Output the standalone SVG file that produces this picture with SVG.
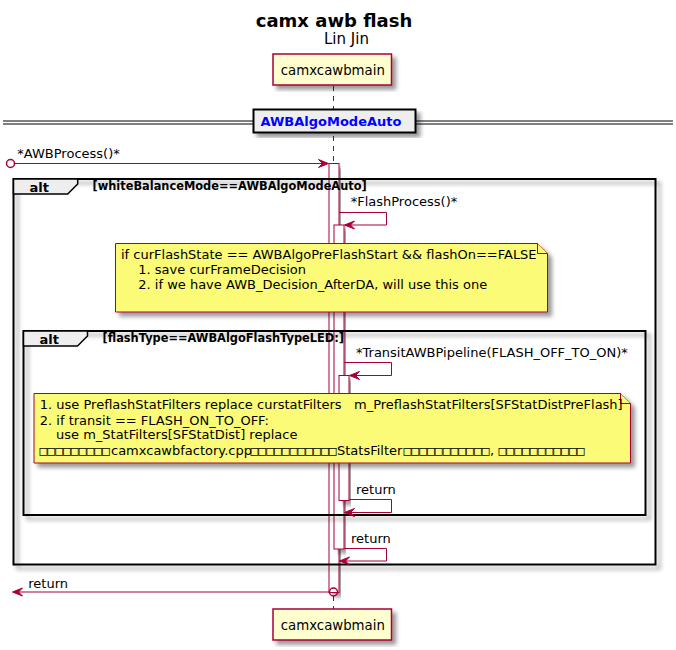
<svg xmlns="http://www.w3.org/2000/svg" width="676" height="650" viewBox="0 0 676 650">
<style>
text{font-family:"DejaVu Sans","Liberation Sans",sans-serif;fill:#000}
.msg{font-size:13px}
.note{font-size:13px;white-space:pre}
.tofu{font-family:"DejaVu Sans Mono","Liberation Mono",monospace;font-size:13px}
.guard{font-size:11.4px;font-weight:bold}
.altl{font-size:13px;font-weight:bold}
.ln{stroke:#A80036;stroke-width:1;fill:none}
.act{fill:#FFFFFF;stroke:#A80036;stroke-width:1}
.part{fill:#FEFECE;stroke:#A80036;stroke-width:1.5}
.notebox{fill:#FBFB77;stroke:#A80036;stroke-width:1}
.frame{fill:none;stroke:#000;stroke-width:2}
.tab{fill:#EEEEEE;stroke:#000;stroke-width:1.5}
.ah{fill:#A80036;stroke:#A80036;stroke-width:1}
</style>
<defs>
<filter id="sh" x="-10%" y="-10%" width="130%" height="130%">
<feGaussianBlur in="SourceAlpha" stdDeviation="2"/>
<feColorMatrix type="matrix" values="0 0 0 0 0 0 0 0 0 0 0 0 0 0 0 0 0 0 0.4 0"/>
<feOffset dx="4" dy="4" result="b"/>
<feMerge><feMergeNode in="b"/><feMergeNode in="SourceGraphic"/></feMerge>
</filter>
</defs>

<g id="title">
<text x="334" y="27" text-anchor="middle" font-size="18" font-weight="bold">camx awb flash</text>
<text x="324" y="43.5" font-size="15">Lin Jin</text>
</g>

<g id="lifeline">
<line x1="333.5" y1="86" x2="333.5" y2="609" stroke="#A80036" stroke-width="1" stroke-dasharray="5,5"/>
</g>

<g id="participant-top">
<rect class="part" x="273" y="54" width="118.5" height="31" filter="url(#sh)"/>
<text x="280.8" y="74.5" font-size="13.3">camxcawbmain</text>
</g>
<g id="participant-bottom">
<rect class="part" x="273" y="609" width="118.5" height="31" filter="url(#sh)"/>
<text x="280.8" y="629.5" font-size="13.3">camxcawbmain</text>
</g>

<g id="divider">
<line x1="3" y1="121" x2="673" y2="121" stroke="#000" stroke-width="1"/>
<line x1="3" y1="124" x2="673" y2="124" stroke="#000" stroke-width="1"/>
<rect x="253.5" y="109.5" width="162" height="23" fill="#EEEEEE" stroke="#000" stroke-width="2" filter="url(#sh)"/>
<text x="260.5" y="125.5" font-size="13" font-weight="bold" style="fill:#0000FF">AWBAlgoModeAuto</text>
</g>

<g id="activations">
<rect class="act" x="329" y="163.5" width="10" height="429" filter="url(#sh)"/>
<rect class="act" x="334" y="225" width="10" height="324" filter="url(#sh)"/>
<rect class="act" x="339" y="375.5" width="10" height="125" filter="url(#sh)"/>
</g>

<g id="alt-outer">
<rect class="frame" x="13.5" y="179" width="642" height="385.5" filter="url(#sh)"/>
<path class="tab" d="M13.5,179 L77.7,179 L77.7,184 L67.7,194 L13.5,194 Z"/>
<text class="altl" x="29.5" y="191.5">alt</text>
<text class="guard" x="92.5" y="190">[whiteBalanceMode==AWBAlgoModeAuto]</text>
</g>

<g id="alt-inner">
<rect class="frame" x="23.5" y="331" width="622" height="184" filter="url(#sh)"/>
<path class="tab" d="M23.5,331 L87.5,331 L87.5,336 L77.5,346 L23.5,346 Z"/>
<text class="altl" x="39.5" y="343.5">alt</text>
<text class="guard" x="102.5" y="341.5">[flashType==AWBAlgoFlashTypeLED:]</text>
</g>

<g id="note1">
<path class="notebox" d="M115.5,243.5 L115.5,312 L547.5,312 L547.5,253.5 L537.5,243.5 Z" filter="url(#sh)"/>
<path class="notebox" d="M537.5,243.5 L537.5,253.5 L547.5,253.5"/>
<text class="note" x="121" y="259.3">if curFlashState == AWBAlgoPreFlashStart &amp;&amp; flashOn==FALSE</text>
<text class="note" x="138.3" y="274.3">1. save curFrameDecision</text>
<text class="note" x="138.3" y="289">2. if we have AWB_Decision_AfterDA, will use this one</text>
</g>

<g id="note2">
<path class="notebox" d="M34,393.5 L34,463 L630.5,463 L630.5,403.5 L620.5,393.5 Z" filter="url(#sh)"/>
<path class="notebox" d="M620.5,393.5 L620.5,403.5 L630.5,403.5"/>
<text class="note" x="39.8" y="409.3">1. use PreflashStatFilters replace curstatFilters   m_PreflashStatFilters[SFStatDistPreFlash]</text>
<text class="note" x="39.8" y="424.7">2. if transit == FLASH_ON_TO_OFF:</text>
<text class="note" x="56" y="439.3">use m_StatFilters[SFStatDist] replace</text>
<text class="tofu" x="39.5" y="454.7">□□□□□□□□□</text>
<text class="note" x="111" y="454.7">camxcawbfactory.cpp</text>
<text class="tofu" x="250.5" y="454.7">□□□□□□□□□□□</text>
<text class="note" x="337" y="454.7">StatsFilter</text>
<text class="tofu" x="403.5" y="454.7">□□□□□□□□□□□</text>
<text class="note" x="490" y="454.7">,</text>
<text class="tofu" x="498.5" y="454.7">□□□□□□□□□□□</text>
</g>

<g id="connectors">
<circle cx="10.5" cy="163.5" r="4" fill="none" stroke="#A80036" stroke-width="1.5"/>
<line class="ln" x1="14.5" y1="163.5" x2="327" y2="163.5"/>
<polygon class="ah" points="328.5,163.5 318.5,159.5 322.5,163.5 318.5,167.5"/>
<text class="msg" x="17.3" y="158.3">*AWBProcess()*</text>

<polyline class="ln" points="339,212.5 386.5,212.5 386.5,225 345,225"/>
<polygon class="ah" points="344.5,225 354.5,221 350.5,225 354.5,229"/>
<text class="msg" x="350.7" y="206">*FlashProcess()*</text>

<polyline class="ln" points="344,362.5 391.5,362.5 391.5,375.5 350,375.5"/>
<polygon class="ah" points="349.5,375.5 359.5,371.5 355.5,375.5 359.5,379.5"/>
<text class="msg" x="356" y="357">*TransitAWBPipeline(FLASH_OFF_TO_ON)*</text>

<polyline class="ln" points="349,499.5 391.5,499.5 391.5,512.5 345,512.5"/>
<polygon class="ah" points="344.5,512.5 354.5,508.5 350.5,512.5 354.5,516.5"/>
<text class="msg" x="356" y="493.5">return</text>

<polyline class="ln" points="344,548.5 386.5,548.5 386.5,561 340,561"/>
<polygon class="ah" points="339.5,561 349.5,557 345.5,561 349.5,565"/>
<text class="msg" x="351" y="543.3">return</text>

<circle cx="333.5" cy="592" r="4" fill="none" stroke="#A80036" stroke-width="1.5"/>
<line class="ln" x1="329.5" y1="592" x2="13.5" y2="592"/>
<polygon class="ah" points="12.5,592 22.5,588 18.5,592 22.5,596"/>
<text class="msg" x="28.3" y="587.5">return</text>
</g>
</svg>
